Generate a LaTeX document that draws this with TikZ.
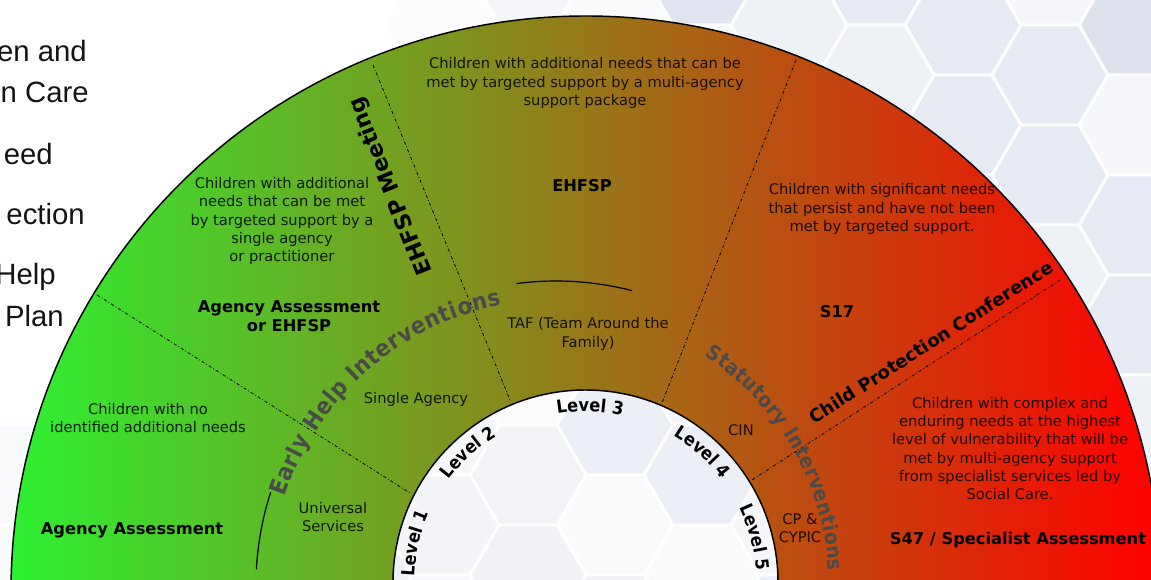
\documentclass[tikz,border=0pt]{standalone}
\usepackage{fontspec}
\setmainfont{DejaVu Sans}
\newfontfamily\sidefont{Liberation Sans}
\newfontfamily\condfont{DejaVu Sans Condensed}
\usetikzlibrary{decorations.text}

% colours of the band and the honeycomb behind it
\definecolor{bandgreen}{RGB}{45,240,50}
\definecolor{bandmid}{RGB}{140,132,30}
\definecolor{bandred}{RGB}{255,0,0}
\definecolor{hexA}{RGB}{221,226,237}
\definecolor{hexB}{RGB}{230,234,242}
\definecolor{hexC}{RGB}{238,241,246}
\definecolor{hexD}{RGB}{245,247,250}
\definecolor{curvegray}{RGB}{74,74,74}

\newcommand\levelfont{\condfont\bfseries\fontsize{13.5}{15}\selectfont}
\newcommand\earlyfont{\condfont\bfseries\fontsize{17.5}{20}\selectfont}
\newcommand\statfont{\condfont\bfseries\fontsize{15.5}{18}\selectfont}

\tikzset{
  need/.style={align=center, font=\fontsize{11}{13.6}\selectfont, text=black, text opacity=0.85},
  tier/.style={align=center, font=\bfseries\fontsize{12.2}{14.3}\selectfont},
  meeting/.style={font=\bfseries\fontsize{#1}{18}\selectfont, inner sep=0pt},
  divider/.style={line width=0.6pt, dash pattern=on 2.4pt off 1.6pt on 0.6pt off 1.6pt},
  side/.style={anchor=base east, inner sep=0pt, font=\sidefont\fontsize{22}{26}\selectfont, text=black!92},
}

\begin{document}
\begin{tikzpicture}[x=0.75pt, y=0.75pt]
\useasboundingbox (0,0) rectangle (1151,580);
\clip (0,0) rectangle (1151,580);
\fill[white] (0,0) rectangle (1151,580);

% honeycomb, fading out towards the top left corner
\foreach \i in {-7,...,7}{
  \foreach \j in {-5,...,2}{
    \pgfmathsetmacro\cx{528+87*\i}
    \pgfmathsetmacro\cy{105-100*\j-50*mod(abs(\i),2)}
    \pgfmathtruncatemacro\k{mod(abs(7*\i+3*\j+11),5)}
    \pgfmathsetmacro\hc{{"hexA","hexB","hexC","hexD","hexB"}[\k]}
    \pgfmathtruncatemacro\pct{max(0,min(100,(veclen(\cx,580-\cy)-400)*0.3))}
    \fill[\hc!\pct!white] (\cx,\cy) ++(0:56) -- ++(120:56) -- ++(180:56)
      -- ++(240:56) -- ++(300:56) -- ++(0:56) -- cycle;
  }
}

% the band
\shade[even odd rule, left color=bandgreen, middle color=bandmid, right color=bandred]
  (586,-11) circle[radius=575] (585.5,-2.5) circle[radius=192.5];
\fill[white, opacity=0.45] (585.5,-2.5) circle[radius=192.5];
\draw[line width=1.1pt] (586,-11) circle[radius=575];
\draw[line width=1.1pt] (585.5,-2.5) circle[radius=192.5];

% level dividers
\draw[divider] (97,285) -- (410,87);
\draw[divider] (373,515) -- (510,180);
\draw[divider] (796,520) -- (662,177);
\draw[divider] (1060,300) -- (752,100);

% level names round the inner circle
\foreach \ang/\lvl in {167/1,132/2,88.5/3,48/4,15/5}
  \path[decorate, decoration={text along path, text align=center,
      text/.expanded={|\noexpand\levelfont|Level \lvl}}]
    ([shift={(585.5,-2.5)}]\ang+30:171) arc[start angle=\ang+30, end angle=\ang-30, radius=171];

% intervention bands
\draw[line width=0.9pt] ([shift={(556,-5)}]177:300) arc[start angle=177, end angle=162, radius=300];
\draw[line width=0.9pt] ([shift={(556,-5)}]97.5:304) arc[start angle=97.5, end angle=75.5, radius=304];
\path[decorate, decoration={text along path, text align={fit to path}, text color=curvegray,
    text={|\earlyfont|Early Help Interventions}}]
  ([shift={(556,-5)}]162:285) arc[start angle=162, end angle=101, radius=285];
\path[decorate, decoration={text along path, text align={fit to path}, text color=curvegray,
    text={|\statfont|Statutory Interventions}}]
  ([shift={(556,-5)}]57:273) arc[start angle=57, end angle=3, radius=273];

% level 1
\node[need] (l1need) at (148,162) {Children with no\\identified additional needs};
\node[tier] (l1assess) at (132,50) {Agency Assessment};
\node[need] (l1univ) at (333,63) {Universal\\Services};
% level 2
\node[need] (l2need) at (282,359) {Children with additional\\needs that can be met\\by targeted support by a\\single agency\\or practitioner};
\node[tier] (l2assess) at (289,264) {Agency Assessment\\or EHFSP};
\node[need] (l2single) at (416,181) {Single Agency};
\node[meeting=16.5, rotate=112] (l2meet) at (391,394) {EHFSP Meeting};
% level 3
\node[need] (l3need) at (585,497) {Children with additional needs that can be\\met by targeted support by a multi-agency\\support package};
\node[tier] (l3ehfsp) at (582,394) {EHFSP};
\node[need] (l3taf) at (588,246) {TAF (Team Around the\\Family)};
% level 4
\node[need] (l4need) at (882,371) {Children with significant needs\\that persist and have not been\\met by targeted support.};
\node[tier] (l4s17) at (837,268) {S17};
\node[need] (l4cin) at (741,150) {CIN};
\node[meeting=13.5, rotate=32.5] (l4conf) at (931,238) {Child Protection Conference};
% level 5
\node[need] (l5need) at (1010,131.5) {Children with complex and\\enduring needs at the highest\\level of vulnerability that will be\\met by multi-agency support\\from specialist services led by\\Social Care.};
\node[tier] (l5s47) at (1018,40) {S47 / Specialist Assessment};
\node[need] (l5cp) at (800,52) {CP \&\\CYPIC};

% list cut at the left edge
\node[side] (sideA) at (87,518) {en and};
\node[side] (sideB) at (89,477) {n Care};
\node[side] (sideC) at (53,415) {eed};
\node[side] (sideD) at (85,355) {ection};
\node[side] (sideE) at (56,295) {Help};
\node[side] (sideF) at (64,253) {Plan};
\end{tikzpicture}
\end{document}
